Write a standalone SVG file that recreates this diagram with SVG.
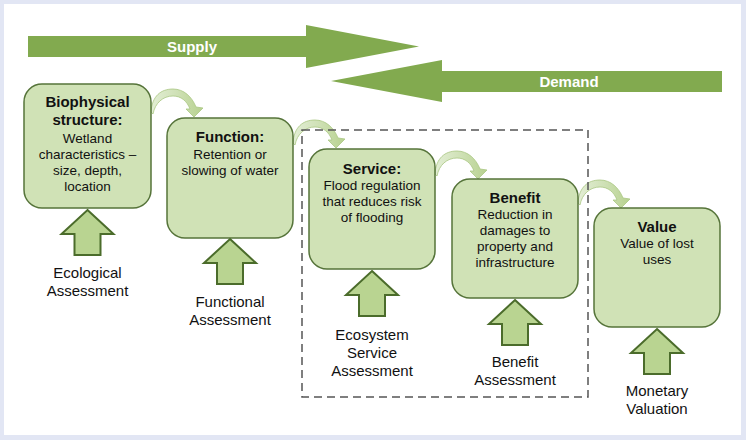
<svg xmlns="http://www.w3.org/2000/svg" width="746" height="440" viewBox="0 0 746 440">
<defs>
<linearGradient id="cg" x1="0" y1="0" x2="1" y2="0">
<stop offset="0" stop-color="#e3eed5"/>
<stop offset="0.5" stop-color="#cfe1b6"/>
<stop offset="1" stop-color="#b7d18f"/>
</linearGradient>
<path id="curve" d="M 0,26 C 1,10 10,3 22,3 C 33,3 41,11 45,21 L 52,22 L 43,31 L 35,23 L 39,23 C 36,15 30,10 22,10 C 12,10 4,17 2,28 Z"/>
<path id="up" d="M 0,0 L 26,24 L 13,24 L 13,45 L -13,45 L -13,24 L -26,24 Z"/>
</defs>
<style>
.box{fill:#d0e2b6;stroke:#56743a;stroke-width:1.5}
.upa{fill:#b9d491;stroke:#4b6c2b;stroke-width:2;stroke-linejoin:miter}
.con{fill:url(#cg);stroke:#a9c783;stroke-width:0.8}
.big{fill:#82aa4f}
.t{font-family:"Liberation Sans",Arial,sans-serif;text-anchor:middle;fill:#111}
.b{font-size:15px;font-weight:bold}
.n{font-size:13.5px}
.l{font-size:15px}
.w{font-family:"Liberation Sans",Arial,sans-serif;font-size:15px;font-weight:bold;fill:#fff;text-anchor:middle}
</style>
<rect x="0" y="0" width="746" height="440" fill="#e2e6f4"/>
<rect x="4" y="4" width="737" height="431" fill="#ffffff"/>

<g id="supply">
<polygon class="big" points="28,36 306,36 306,25 419,46.5 306,68 306,57 28,57"/>
<text class="w" x="192" y="52">Supply</text>
</g>
<g id="demand">
<polygon class="big" points="722,71 442,71 442,60 331,81 442,102 442,92 722,92"/>
<text class="w" x="569" y="87">Demand</text>
</g>

<g id="connectors">
<use href="#curve" class="con" transform="translate(151,86)"/>
<use href="#curve" class="con" transform="translate(293,117)"/>
<use href="#curve" class="con" transform="translate(435,148)"/>
<use href="#curve" class="con" transform="translate(578,177)"/>
</g>

<g id="biophysical">
<rect class="box" x="24" y="84" width="127" height="124" rx="18"/>
<text class="t b" x="87.5" y="107">Biophysical</text>
<text class="t b" x="87.5" y="125">structure:</text>
<text class="t n" x="87.5" y="143">Wetland</text>
<text class="t n" x="87.5" y="159">characteristics –</text>
<text class="t n" x="87.5" y="175">size, depth,</text>
<text class="t n" x="87.5" y="191">location</text>
</g>
<g id="function">
<rect class="box" x="167" y="118" width="126" height="120" rx="18"/>
<text class="t b" x="230" y="142">Function:</text>
<text class="t n" x="230" y="159">Retention or</text>
<text class="t n" x="230" y="175">slowing of water</text>
</g>
<g id="service">
<rect class="box" x="309" y="149" width="126" height="120" rx="18"/>
<text class="t b" x="372" y="174">Service:</text>
<text class="t n" x="372" y="190">Flood regulation</text>
<text class="t n" x="372" y="206">that reduces risk</text>
<text class="t n" x="372" y="222">of flooding</text>
</g>
<g id="benefit">
<rect class="box" x="452" y="179" width="126" height="119" rx="18"/>
<text class="t b" x="515" y="203">Benefit</text>
<text class="t n" x="515" y="219">Reduction in</text>
<text class="t n" x="515" y="235">damages to</text>
<text class="t n" x="515" y="251">property and</text>
<text class="t n" x="515" y="267">infrastructure</text>
</g>
<g id="value">
<rect class="box" x="594" y="208" width="126" height="119" rx="18"/>
<text class="t b" x="657" y="232">Value</text>
<text class="t n" x="657" y="248">Value of lost</text>
<text class="t n" x="657" y="264">uses</text>
</g>

<g id="ecological">
<use href="#up" class="upa" transform="translate(87.5,210)"/>
<text class="t l" x="87.5" y="278">Ecological</text>
<text class="t l" x="87.5" y="296">Assessment</text>
</g>
<g id="functional">
<use href="#up" class="upa" transform="translate(230,239)"/>
<text class="t l" x="230" y="307">Functional</text>
<text class="t l" x="230" y="325">Assessment</text>
</g>
<g id="ecosystem">
<use href="#up" class="upa" transform="translate(372,271)"/>
<text class="t l" x="372" y="340">Ecosystem</text>
<text class="t l" x="372" y="358">Service</text>
<text class="t l" x="372" y="376">Assessment</text>
</g>
<g id="benefitassess">
<use href="#up" class="upa" transform="translate(515,300)"/>
<text class="t l" x="515" y="367">Benefit</text>
<text class="t l" x="515" y="385">Assessment</text>
</g>
<g id="monetary">
<use href="#up" class="upa" transform="translate(657,329)"/>
<text class="t l" x="657" y="396">Monetary</text>
<text class="t l" x="657" y="414">Valuation</text>
</g>

<g id="scope">
<rect x="302" y="130" width="286" height="267" fill="none" stroke="#555555" stroke-width="1.5" stroke-dasharray="8 5"/>
</g>
</svg>
